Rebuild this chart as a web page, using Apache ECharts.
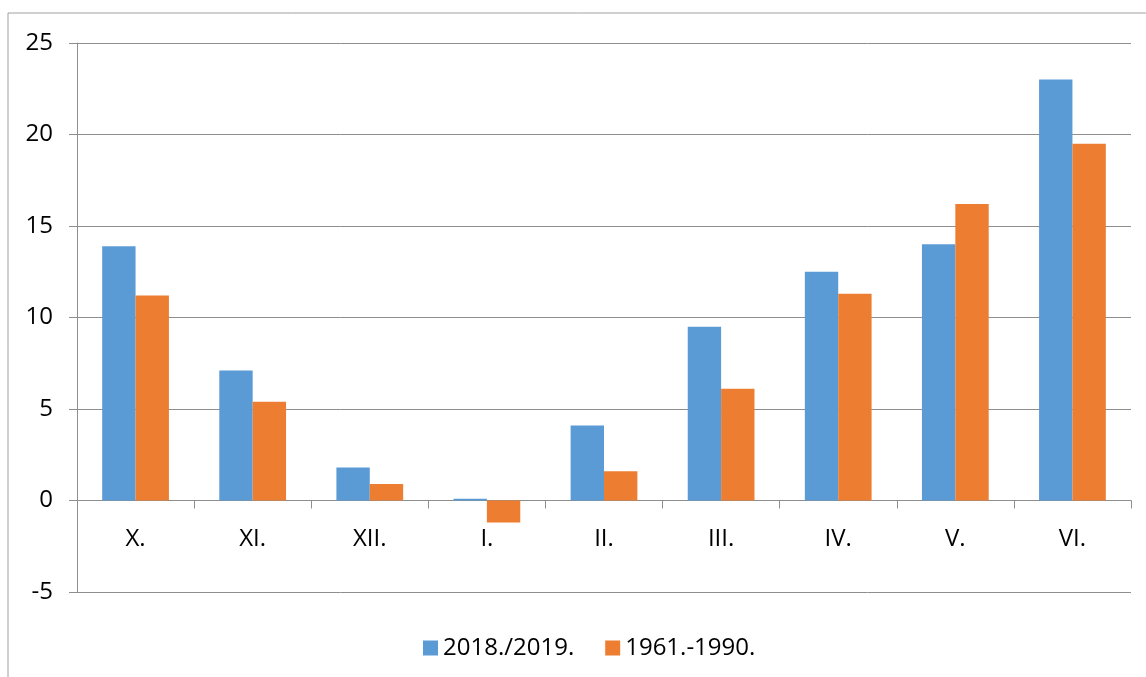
<!DOCTYPE html>
<html>
<head>
<meta charset="utf-8">
<script src="https://cdn.jsdelivr.net/npm/echarts@6/dist/echarts.min.js"></script>
<style>
  html, body { margin: 0; padding: 0; background: #fff; }
  #chart { width: 1146px; height: 677px; }
</style>
</head>
<body>
<div id="chart"></div>
<script>
// podaci
var months = ['X.', 'XI.', 'XII.', 'I.', 'II.', 'III.', 'IV.', 'V.', 'VI.'];
var season2018 = [13.9, 7.1, 1.8, 0.1, 4.1, 9.5, 12.5, 14.0, 23.0];
var normal1961 = [11.2, 5.4, 0.9, -1.2, 1.6, 6.1, 11.3, 16.2, 19.5];

var lineGray = '#8e8e8e';
var fontName = 'Open Sans';

var myChart = echarts.init(document.getElementById('chart'));
myChart.setOption({
    animation: false,
    color: ['#5B9BD5', '#ED7D31'],
    textStyle: { fontFamily: fontName },
    graphic: [{
        type: 'rect',
        shape: { x: 8, y: 13, width: 1160, height: 700 },
        style: { fill: 'none', stroke: '#a0a0a0', lineWidth: 1 }
    }],
    grid: { left: 77, right: 15, top: 43, bottom: 85 },
    legend: {
        left: 418,
        top: 631,
        icon: 'rect',
        itemWidth: 15,
        itemHeight: 15,
        itemGap: 31,
        textStyle: { fontFamily: fontName, fontSize: 24, color: '#000', padding: [0, 0, 0, 0] },
        data: ['2018./2019.', '1961.-1990.']
    },
    xAxis: {
        type: 'category',
        data: months,
        axisLine: { onZero: true, lineStyle: { color: lineGray, width: 1 } },
        axisTick: { show: true, length: 8, lineStyle: { color: lineGray } },
        // labels sit just under the zero line, not at the grid bottom
        axisLabel: { fontFamily: fontName, fontSize: 24, color: '#000', margin: -65 }
    },
    yAxis: {
        type: 'value',
        min: -5,
        max: 25,
        interval: 5,
        axisLine: { show: true, lineStyle: { color: lineGray, width: 1 } },
        axisTick: { show: true, length: 8, lineStyle: { color: lineGray } },
        splitLine: { lineStyle: { color: lineGray, width: 1 } },
        axisLabel: { fontFamily: fontName, fontSize: 24, color: '#000', margin: 24 }
    },
    series: [{
        name: '2018./2019.',
        type: 'bar',
        data: season2018,
        barGap: '0%',
        barCategoryGap: '43%'
    }, {
        name: '1961.-1990.',
        type: 'bar',
        data: normal1961
    }]
});
</script>
</body>
</html>
